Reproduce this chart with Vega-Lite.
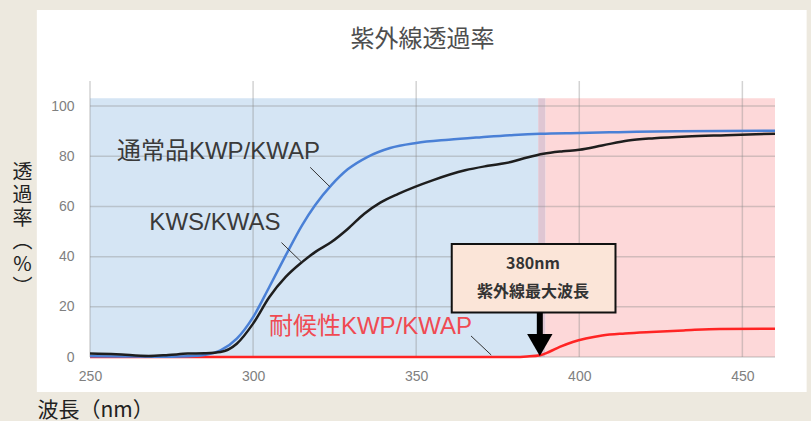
{
  "$schema": "https://vega.github.io/schema/vega-lite/v6.json",
  "width": 685,
  "height": 276,
  "autosize": {"type": "none"},
  "padding": {"left": 90, "top": 81, "right": 36, "bottom": 64},
  "background": "#ede9df",
  "config": {"view": {"stroke": null}, "font": "Liberation Sans"},
  "title": {"text": "紫外線透過率", "font": "Noto Sans CJK JP", "fontSize": 24, "fontWeight": "normal", "color": "#4e4e4e", "anchor": "middle", "frame": "group", "baseline": "bottom", "offset": -40, "dx": -10, "dy": 26},
  "layer": [
    {
      "data": {"values": [{"x": 233.7, "x2": 469.7, "y": -13.95, "y2": 138.3}]},
      "mark": {"type": "rect", "fill": "#ffffff"},
      "encoding": {
        "x": {"field": "x", "type": "quantitative", "scale": {"domain": [250, 460], "nice": false, "zero": false},
          "axis": {"zindex": 1, "values": [250, 300, 350, 400, 450], "labelFlush": false, "grid": false, "domain": false, "ticks": false, "tickSize": 0, "labelPadding": 12, "labelFontSize": 14, "labelColor": "#808080", "labelFont": "Liberation Sans",
            "title": "波長（nm）", "titleFont": "Noto Sans CJK JP", "titleFontSize": 21, "titleFontWeight": "normal", "titleColor": "#222222", "titleAnchor": "start", "titleAlign": "left", "titleX": -53, "titleY": 53, "titleBaseline": "middle"}},
        "x2": {"field": "x2"},
        "y": {"field": "y", "type": "quantitative", "scale": {"domain": [0, 110], "nice": false, "zero": false},
          "axis": {"zindex": 1, "values": [0, 20, 40, 60, 80, 100], "labelFlush": false, "grid": false, "domain": false, "ticks": false, "tickSize": 0, "labelPadding": 16, "labelFontSize": 14, "labelColor": "#808080", "labelFont": "Liberation Sans",
            "title": ["透", "過", "率", "︵", "%", "︶"], "titleFont": "Noto Sans CJK JP", "titleFontSize": 20, "titleFontWeight": "normal", "titleColor": "#222222", "titleAngle": 0, "titleAlign": "center", "titleBaseline": "top", "titleX": -68, "titleY": 81, "titleLineHeight": 23}},
        "y2": {"field": "y2"}
      }
    },
    {
      "data": {"values": [{"x": 250, "x2": 387.4, "y": 0, "y2": 103.1}]},
      "mark": {"type": "rect", "fill": "#d5e5f4"},
      "encoding": {"x": {"field": "x", "type": "quantitative"}, "x2": {"field": "x2"}, "y": {"field": "y", "type": "quantitative"}, "y2": {"field": "y2"}}
    },
    {
      "data": {"values": [{"x": 389.6, "x2": 460, "y": 0, "y2": 103.1}]},
      "mark": {"type": "rect", "fill": "#fdd8d9"},
      "encoding": {"x": {"field": "x", "type": "quantitative"}, "x2": {"field": "x2"}, "y": {"field": "y", "type": "quantitative"}, "y2": {"field": "y2"}}
    },
    {
      "data": {"values": [{"x": 387.4, "x2": 389.6, "y": 0, "y2": 103.1}]},
      "mark": {"type": "rect", "fill": "#dfc6d3"},
      "encoding": {"x": {"field": "x", "type": "quantitative"}, "x2": {"field": "x2"}, "y": {"field": "y", "type": "quantitative"}, "y2": {"field": "y2"}}
    },
    {
      "data": {"values": [
        {"x": 250, "x2": 250, "y": 0, "y2": 110},
        {"x": 300, "x2": 300, "y": 0, "y2": 110},
        {"x": 350, "x2": 350, "y": 0, "y2": 110},
        {"x": 400, "x2": 400, "y": 0, "y2": 110},
        {"x": 450, "x2": 450, "y": 0, "y2": 110},
        {"x": 250, "x2": 460, "y": 0, "y2": 0},
        {"x": 250, "x2": 460, "y": 20, "y2": 20},
        {"x": 250, "x2": 460, "y": 40, "y2": 40},
        {"x": 250, "x2": 460, "y": 60, "y2": 60},
        {"x": 250, "x2": 460, "y": 80, "y2": 80},
        {"x": 250, "x2": 460, "y": 100, "y2": 100}
      ]},
      "mark": {"type": "rule", "color": "#8c8c8c", "opacity": 0.38, "strokeWidth": 1.5},
      "encoding": {"x": {"field": "x", "type": "quantitative"}, "x2": {"field": "x2"}, "y": {"field": "y", "type": "quantitative"}, "y2": {"field": "y2"}}
    },
    {
      "data": {"values": [
        {"nm": 250, "pct": 0}, {"nm": 300, "pct": 0}, {"nm": 350, "pct": 0}, {"nm": 380, "pct": 0},
        {"nm": 384, "pct": 0.2}, {"nm": 388, "pct": 0.7}, {"nm": 391, "pct": 2.2}, {"nm": 394, "pct": 4},
        {"nm": 398, "pct": 6}, {"nm": 402, "pct": 7.4}, {"nm": 407, "pct": 8.6}, {"nm": 414, "pct": 9.4},
        {"nm": 422, "pct": 10}, {"nm": 432, "pct": 10.6}, {"nm": 443, "pct": 11.2}, {"nm": 460, "pct": 11.3}
      ]},
      "mark": {"type": "line", "color": "#ff2424", "strokeWidth": 2.5, "interpolate": "monotone"},
      "encoding": {"x": {"field": "nm", "type": "quantitative"}, "y": {"field": "pct", "type": "quantitative"}}
    },
    {
      "data": {"values": [
        {"nm": 250, "pct": 0.3}, {"nm": 260, "pct": 0.2}, {"nm": 270, "pct": 0.1}, {"nm": 280, "pct": 0.3},
        {"nm": 285, "pct": 0.8}, {"nm": 290, "pct": 2.6}, {"nm": 295, "pct": 7.3}, {"nm": 300, "pct": 15.9},
        {"nm": 305, "pct": 28}, {"nm": 310, "pct": 40.5}, {"nm": 315, "pct": 52.5},
        {"nm": 319, "pct": 60.5}, {"nm": 324, "pct": 68.5}, {"nm": 329, "pct": 74.8}, {"nm": 335, "pct": 79.7},
        {"nm": 342, "pct": 83.3}, {"nm": 350, "pct": 85.3}, {"nm": 360, "pct": 86.6}, {"nm": 370, "pct": 87.6},
        {"nm": 380, "pct": 88.5}, {"nm": 388, "pct": 89}, {"nm": 400, "pct": 89.3}, {"nm": 412, "pct": 89.6},
        {"nm": 430, "pct": 90}, {"nm": 460, "pct": 90.2}
      ]},
      "mark": {"type": "line", "color": "#4a80d6", "strokeWidth": 2.5, "interpolate": "monotone"},
      "encoding": {"x": {"field": "nm", "type": "quantitative"}, "y": {"field": "pct", "type": "quantitative"}}
    },
    {
      "data": {"values": [
        {"nm": 250, "pct": 1.35}, {"nm": 258, "pct": 1.1}, {"nm": 268, "pct": 0.4}, {"nm": 274, "pct": 0.8},
        {"nm": 280, "pct": 1.35}, {"nm": 285, "pct": 1.5}, {"nm": 290, "pct": 2}, {"nm": 295, "pct": 5.3},
        {"nm": 300, "pct": 13.3}, {"nm": 305, "pct": 23.9}, {"nm": 310, "pct": 31.9}, {"nm": 315, "pct": 37.8},
        {"nm": 319, "pct": 41.8}, {"nm": 324, "pct": 45.8}, {"nm": 329, "pct": 51}, {"nm": 334, "pct": 57},
        {"nm": 339, "pct": 61.5}, {"nm": 344.5, "pct": 65}, {"nm": 355, "pct": 70.4}, {"nm": 365, "pct": 74.4},
        {"nm": 372, "pct": 76.2}, {"nm": 379, "pct": 77.7}, {"nm": 384, "pct": 79.5}, {"nm": 389, "pct": 81},
        {"nm": 395, "pct": 82}, {"nm": 400, "pct": 82.6}, {"nm": 407, "pct": 84.3}, {"nm": 415, "pct": 86.3},
        {"nm": 423, "pct": 87.2}, {"nm": 433, "pct": 87.9}, {"nm": 445, "pct": 88.4}, {"nm": 460, "pct": 89}
      ]},
      "mark": {"type": "line", "color": "#1e1e1e", "strokeWidth": 2.5, "interpolate": "monotone"},
      "encoding": {"x": {"field": "nm", "type": "quantitative"}, "y": {"field": "pct", "type": "quantitative"}}
    },
    {
      "data": {"values": [
        {"x": 317.5, "x2": 323.5, "y": 75.6, "y2": 67.9},
        {"x": 308.7, "x2": 314.9, "y": 45.6, "y2": 37.8},
        {"x": 366.8, "x2": 373, "y": 8.4, "y2": 0.8}
      ]},
      "mark": {"type": "rule", "color": "#333333", "strokeWidth": 1},
      "encoding": {"x": {"field": "x", "type": "quantitative"}, "x2": {"field": "x2"}, "y": {"field": "y", "type": "quantitative"}, "y2": {"field": "y2"}}
    },
    {
      "data": {"values": [
        {"label": "通常品KWP/KWAP", "x": 289.4, "y": 81.8},
        {"label": "KWS/KWAS", "x": 288.3, "y": 53.3}
      ]},
      "mark": {"type": "text", "font": "Liberation Sans, Noto Sans CJK JP", "fontSize": 24, "color": "#3a3a3a", "align": "center", "baseline": "middle"},
      "encoding": {"x": {"field": "x", "type": "quantitative"}, "y": {"field": "y", "type": "quantitative"}, "text": {"field": "label"}}
    },
    {
      "data": {"values": [{"label": "耐候性KWP/KWAP", "x": 336, "y": 12.1}]},
      "mark": {"type": "text", "font": "Liberation Sans, Noto Sans CJK JP", "fontSize": 24, "color": "#f04a52", "align": "center", "baseline": "middle"},
      "encoding": {"x": {"field": "x", "type": "quantitative"}, "y": {"field": "y", "type": "quantitative"}, "text": {"field": "label"}}
    },
    {
      "data": {"values": [{"x": 360.9, "x2": 411.1, "y": 17.7, "y2": 45}]},
      "mark": {"type": "rect", "fill": "#fbe5d8", "stroke": "#111111", "strokeWidth": 2},
      "encoding": {"x": {"field": "x", "type": "quantitative"}, "x2": {"field": "x2"}, "y": {"field": "y", "type": "quantitative"}, "y2": {"field": "y2"}}
    },
    {
      "data": {"values": [
        {"label": "380nm", "x": 385.8, "y": 37},
        {"label": "紫外線最大波長", "x": 385.8, "y": 26}
      ]},
      "mark": {"type": "text", "font": "Noto Sans CJK JP", "fontSize": 16, "fontWeight": "bold", "color": "#333333", "align": "center", "baseline": "middle"},
      "encoding": {"x": {"field": "x", "type": "quantitative"}, "y": {"field": "y", "type": "quantitative"}, "text": {"field": "label"}}
    },
    {
      "data": {"values": [{"x": 387.9, "y": 17.7, "y2": 8.5}]},
      "mark": {"type": "rule", "color": "#000000", "strokeWidth": 6},
      "encoding": {"x": {"field": "x", "type": "quantitative"}, "y": {"field": "y", "type": "quantitative"}, "y2": {"field": "y2"}}
    },
    {
      "data": {"values": [{"x": 387.9, "y": 4.8}]},
      "mark": {"type": "point", "shape": "triangle-down", "size": 645, "filled": true, "color": "#000000", "opacity": 1},
      "encoding": {"x": {"field": "x", "type": "quantitative"}, "y": {"field": "y", "type": "quantitative"}}
    }
  ]
}
